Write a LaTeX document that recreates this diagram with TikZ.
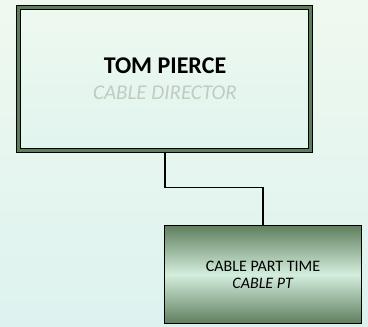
\documentclass[tikz,border=0pt]{standalone}
\usepackage{fontspec}
\setmainfont{Carlito}
\usetikzlibrary{positioning}

\definecolor{bgtop}{HTML}{EFF9EF}
\definecolor{bgbot}{HTML}{DDF2EF}
\definecolor{framegreen}{HTML}{5E7D5C}
\definecolor{headtop}{HTML}{EEF9F0}
\definecolor{headbot}{HTML}{E0F4EE}
\definecolor{boxdark}{HTML}{5F7F5E}
\definecolor{boxlight}{HTML}{D3EEDC}
\definecolor{titlegray}{HTML}{C2CAC2}

\begin{document}
\begin{tikzpicture}[x=1pt, y=-1pt,
    headbox/.style={draw=black, line width=1pt, double=framegreen, double distance=3pt,
        top color=headtop, bottom color=headbot, inner sep=0pt, align=center,
        minimum width=292pt, minimum height=143pt},
    staffbox/.style={draw=black, line width=1.1pt, top color=boxdark, bottom color=boxdark,
        middle color=boxlight, inner sep=0pt, align=center,
        minimum width=197pt, minimum height=98pt},
    link/.style={draw=black, line width=1.1pt}]

    % --- canvas ---
    \shade[top color=bgtop, bottom color=bgbot] (0,0) rectangle (368,327);
    \useasboundingbox (0,0) rectangle (368,327);

    % --- boxes ---
    \node[headbox, font=\fontsize{22}{26}\selectfont] (director) at (165,78.5)
        {{\fontsize{24}{26}\selectfont\bfseries TOM PIERCE}\\
         {\fontsize{21}{26}\selectfont\itshape\color{titlegray}CABLE DIRECTOR}};

    \node[staffbox, font=\fontsize{16}{17}\selectfont] (parttime) at (263,274.5)
        {CABLE PART TIME\\ \textit{CABLE PT}};

    % --- connector ---
    \path (director.south) ++(0,37) coordinate (bend);
    \draw[link, shorten <=2pt] (director.south) -- (bend) -| (parttime.north);

\end{tikzpicture}
\end{document}
